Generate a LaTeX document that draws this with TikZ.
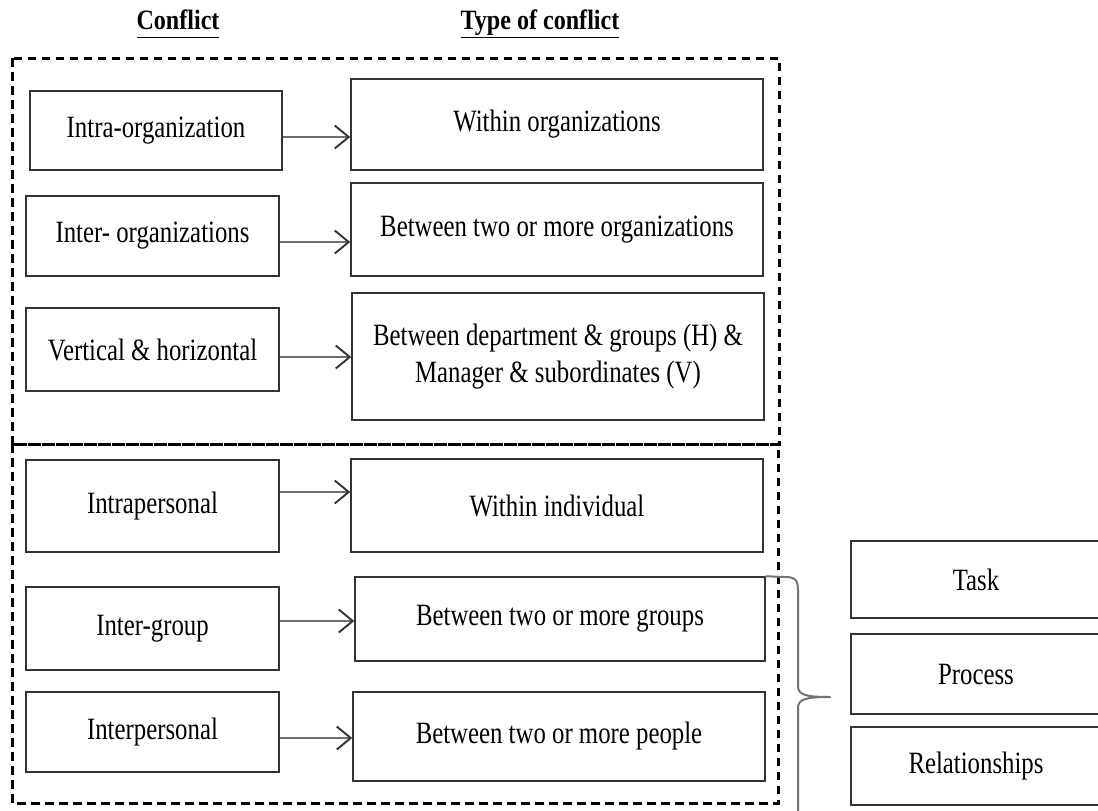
\documentclass[tikz,border=0pt]{standalone}
\usepackage{fontspec}
\setmainfont{Liberation Serif}[FakeStretch=0.8]
\newfontfamily\headfont{Liberation Serif}[FakeStretch=0.86]
\usetikzlibrary{arrows.meta}
\definecolor{boxline}{HTML}{333333}
\definecolor{shaft}{HTML}{6E6E6E}
\begin{document}
\begin{tikzpicture}[x=1pt,y=-1pt,
  box/.style={draw=boxline,line width=1.5pt,rectangle,inner sep=0pt,align=center,
    font=\fontsize{31}{37}\selectfont,text=black},
  header/.style={font=\headfont\bfseries\fontsize{28}{32}\selectfont},
  group/.style={draw=black,line width=3pt,dash pattern=on 8.5pt off 5.5pt},
  link/.style={draw=shaft,line width=1.6pt,
    -{Straight Barb[length=14pt,width=23pt,line width=1.9pt,color=boxline]}},
  bracket/.style={draw=black!55,line width=2pt,line cap=round,line join=round}]
\useasboundingbox (0,0) rectangle (1098,811);

% column headings
\node[header] (h1) at (178,24) {\underline{Conflict\vphantom{Typ}}};
\node[header] (h2) at (540,24) {\underline{Type of conflict}};

% dashed groups
\draw[group] (12,58) rectangle (779,444);
\draw[group] (12,444) rectangle (778,803);

% conflicts
\node[box,minimum width=252pt,minimum height=79pt] (l1) at (156,130.5) {Intra-organization};
\node[box,minimum width=253pt,minimum height=80pt] (l2) at (152.5,236) {Inter- organizations};
\node[box,minimum width=253pt,minimum height=83pt] (l3) at (152.5,349.5) {Vertical \& horizontal};
\node[box,minimum width=253pt,minimum height=92pt] (l4) at (152.5,506) {Intrapersonal};
\node[box,minimum width=253pt,minimum height=83pt] (l5) at (152.5,628.5) {Inter-group};
\node[box,minimum width=253pt,minimum height=80pt] (l6) at (152.5,732) {Interpersonal};

% types of conflict
\node[box,minimum width=412pt,minimum height=91pt] (r1) at (557,124.5) {Within organizations};
\node[box,minimum width=412pt,minimum height=93pt] (r2) at (557,229.5) {Between two or more organizations};
\node[box,minimum width=412pt,minimum height=127pt] (r3) at (558,356.5)
  {Between department \& groups (H) \&\\Manager \& subordinates (V)};
\node[box,minimum width=412pt,minimum height=93pt] (r4) at (557,505.5) {Within individual};
\node[box,minimum width=410pt,minimum height=84pt] (r5) at (560,619) {Between two or more groups};
\node[box,minimum width=412pt,minimum height=89pt] (r6) at (559,736.5) {Between two or more people};

% kinds of interpersonal conflict
\node[box,minimum width=250pt,minimum height=77pt] (k1) at (976,579.5) {Task};
\node[box,minimum width=250pt,minimum height=80pt] (k2) at (976,674) {Process};
\node[box,minimum width=250pt,minimum height=78pt] (k3) at (976,766) {Relationships};

% arrows
\draw[link] (l1.east |- 0,137) -- (r1.west |- 0,137);
\draw[link] (l2.east |- 0,242) -- (r2.west |- 0,242);
\draw[link] (l3.east |- 0,357) -- (r3.west |- 0,357);
\draw[link] (l4.east |- 0,492) -- (r4.west |- 0,492);
\draw[link] (l5.east |- 0,621) -- (r5.west |- 0,621);
\draw[link] (l6.east |- 0,738) -- (r6.west |- 0,738);

% curly bracket grouping the lower types
\coordinate (tip) at (830,697);
\coordinate (low) at (798,820);
\draw[bracket] (r5.north east) -- (785,577) .. controls (795,577) and (798,580) .. (798,590)
  -- (798,686) .. controls (798,695) and (806,697) .. (tip)
  .. controls (806,697) and (798,699) .. (798,708) -- (low);
\end{tikzpicture}
\end{document}
